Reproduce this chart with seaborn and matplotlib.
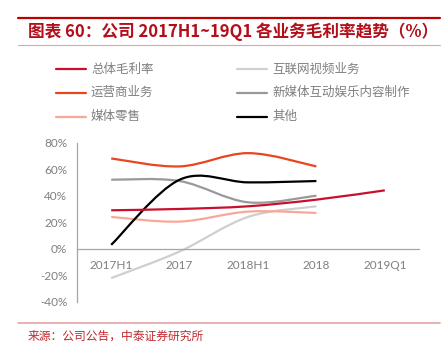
import numpy as np
import pandas as pd
import seaborn as sns
import matplotlib
matplotlib.use("Agg")
import matplotlib.pyplot as plt
from matplotlib.path import Path
from matplotlib.patches import PathPatch
from matplotlib.lines import Line2D

# ---------------- data ----------------
categories = ["2017H1", "2017", "2018H1", "2018", "2019Q1"]
total_margin = [29, 30, 32, 37, 44]          # 总体毛利率
internet_video = [-22, -2, 24, 32]           # 互联网视频业务
operator_biz = [68, 62, 72, 62]              # 运营商业务
new_media = [52, 51, 35, 40]                 # 新媒体互动娱乐内容制作
media_retail = [24, 20.5, 28, 27]            # 媒体零售
others = [3, 52, 50, 51]                     # 其他

series_names = ["总体毛利率", "运营商业务", "媒体零售",
                "互联网视频业务", "新媒体互动娱乐内容制作", "其他"]
series_values = [total_margin, operator_biz, media_retail,
                 internet_video, new_media, others]
series_colors = ["#C8102E", "#E8461E", "#F8A898",
                 "#CFCFCF", "#999999", "#000000"]
draw_order = [3, 4, 2, 1, 5, 0]

yticks = [-40, -20, 0, 20, 40, 60, 80]

# ---------------- style ----------------
sns.set_style("white")
plt.rcParams["font.family"] = ["Lato", "Noto Sans CJK SC", "DejaVu Sans"]

W, H = 448, 354
fig = plt.figure(figsize=(W / 100, H / 100), dpi=100)
fig.patch.set_facecolor("white")

def fx(px):
    return px / W

def fy(py):
    return 1 - py / H

ax = fig.add_axes([fx(77), fy(302), fx(419) - fx(77), fy(142.5) - fy(302)])

def smooth_patch(xs, ys, color):
    pts = np.column_stack([xs, ys]).astype(float)
    n = len(pts)
    verts = [pts[0]]
    codes = [Path.MOVETO]
    for i in range(n - 1):
        p0 = pts[i - 1] if i > 0 else pts[i]
        p1 = pts[i]
        p2 = pts[i + 1]
        p3 = pts[i + 2] if i + 2 < n else pts[i + 1]
        c1 = p1 + (p2 - p0) / 6.0
        c2 = p2 - (p3 - p1) / 6.0
        verts += [c1, c2, p2]
        codes += [Path.CURVE4] * 3
    return PathPatch(Path(verts, codes), facecolor="none", edgecolor=color,
                     lw=1.6, capstyle="butt", joinstyle="round")

for k in draw_order:
    vals = series_values[k]
    xs = np.arange(len(vals))
    ax.add_patch(smooth_patch(xs, vals, series_colors[k]))

ax.set_xlim(-0.5, len(categories) - 0.5)
ax.set_ylim(-40, 80)

# axes styling
for s in ["top", "right"]:
    ax.spines[s].set_visible(False)
ax.spines["left"].set_color("#A6A6A6")
ax.spines["bottom"].set_color("#A6A6A6")
ax.spines["left"].set_linewidth(0.9)
ax.spines["bottom"].set_linewidth(0.9)
ax.spines["bottom"].set_position(("data", 0))

ax.set_yticks(yticks)
ax.set_yticklabels([f"{v}%" for v in yticks])
ax.tick_params(axis="y", direction="out", length=4, width=0.9,
               color="#A6A6A6", labelcolor="#7F7F7F", labelsize=8.5, pad=3)

ax.set_xticks(np.arange(-0.5, len(categories), 1.0))
ax.set_xticklabels([])
ax.tick_params(axis="x", which="major", direction="out", length=4, width=0.9,
               color="#A6A6A6")
ax.set_xticks(np.arange(len(categories)), minor=True)
ax.set_xticklabels(categories, minor=True)
ax.tick_params(axis="x", which="minor", length=0, labelcolor="#7F7F7F",
               labelsize=8.5, pad=8)
ax.grid(False)

# ---------------- legend (manual layout) ----------------
leg_rows = [69.3, 92.7, 116.7]
leg_cols = [(56, 86, 91), (237, 267, 272)]
for idx, (name, color) in enumerate(zip(series_names, series_colors)):
    c = idx // 3
    r = idx % 3
    x0, x1, xt = leg_cols[c]
    y = leg_rows[r]
    fig.add_artist(Line2D([fx(x0), fx(x1)], [fy(y), fy(y)], color=color,
                          lw=1.6, transform=fig.transFigure))
    fig.text(fx(xt), fy(y), name, color="#7F7F7F", fontsize=9, va="center",
             ha="left", family=["Noto Sans CJK SC", "DejaVu Sans"])

# ---------------- title / source ----------------
fig.add_artist(Line2D([fx(18), fx(440)], [fy(18), fy(18)], color="#C00000",
                      lw=1.6, transform=fig.transFigure))
fig.add_artist(Line2D([fx(18), fx(440)], [fy(44.5), fy(44.5)], color="#E7A3A3",
                      lw=0.8, transform=fig.transFigure))
fig.text(fx(28), fy(32), "图表 60：公司 2017H1~19Q1 各业务毛利率趋势（%）",
         color="#B30F1A", fontsize=12, fontweight="bold", fontstyle="italic",
         va="center", ha="left", family=["Noto Sans CJK SC", "DejaVu Sans"])

fig.add_artist(Line2D([fx(18), fx(440)], [fy(322.7), fy(322.7)], color="#E8AAAA",
                      lw=1.3, transform=fig.transFigure))
fig.text(fx(28), fy(336), "来源：公司公告，中泰证券研究所", color="#C0282E",
         fontsize=8.5, va="center", ha="left",
         family=["Noto Sans CJK SC", "DejaVu Sans"])

fig.savefig("out.png", dpi=100, facecolor="white")
